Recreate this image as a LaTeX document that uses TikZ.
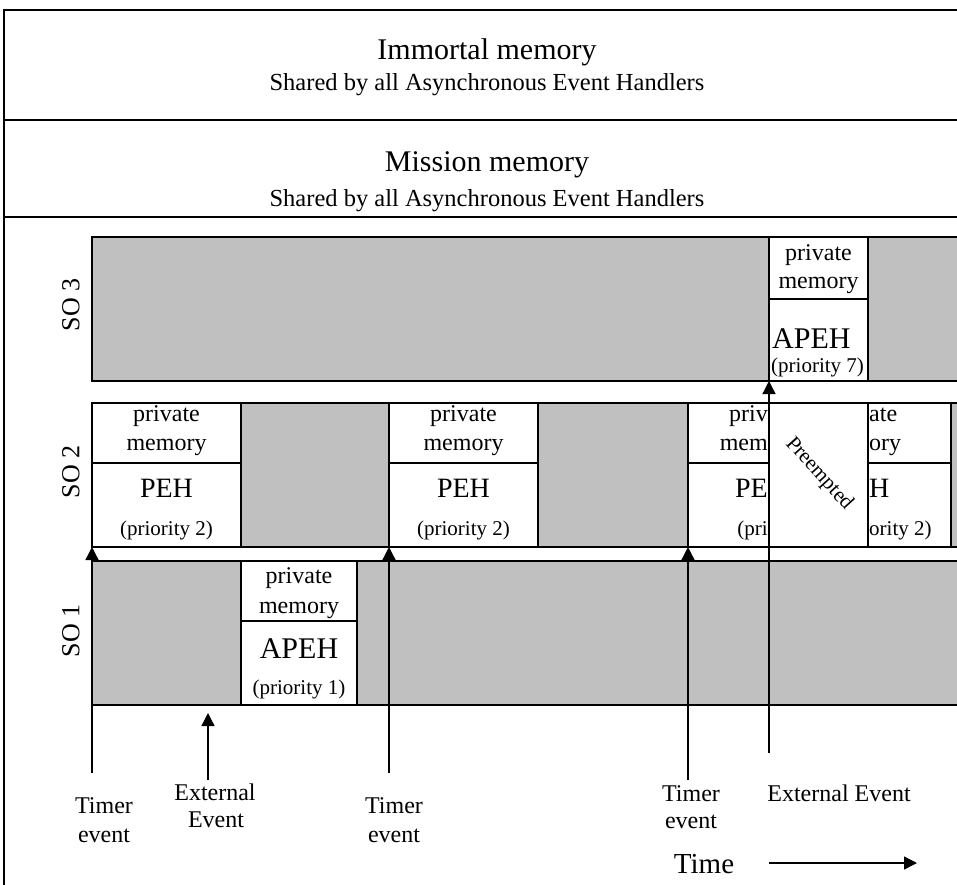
\documentclass[tikz,border=0pt]{standalone}
\usepackage{fontspec}
\setmainfont{Liberation Serif}
\usetikzlibrary{arrows.meta}
\definecolor{boxgrey}{RGB}{192,192,192}
\newcommand{\myfs}[1]{\fontsize{#1}{#1}\selectfont}
\begin{document}
\begin{tikzpicture}[x=1pt,y=-1pt,
  frame/.style={draw=black, line width=1.3pt},
  cell/.style={draw=black, line width=1.3pt, inner sep=0pt, outer sep=0pt, anchor=north west},
  gcell/.style={cell, fill=boxgrey},
  wcell/.style={cell, fill=white},
  sz/.style 2 args={minimum width=#1pt, minimum height=#2pt},
  tx/.style={inner sep=0pt, anchor=base, font=\myfs{#1}},
  tw/.style={inner sep=0pt, anchor=base west, font=\myfs{#1}},
  te/.style={inner sep=0pt, anchor=base east, font=\myfs{#1}},
  arr/.style={line width=1.3pt, -{Triangle[width=13pt,length=13pt]}}
]
\useasboundingbox (0,0) rectangle (957,884);
% memory frame
\draw[frame] (970,10) -- (4,10) -- (4,890);
\draw[frame] (4,120) -- (970,120);
\draw[frame] (4,217) -- (970,217);
\node[tx=30] (imm) at (487,59) {Immortal memory};
\node[tx=24.5] (immsub) at (487,90) {Shared by all Asynchronous Event Handlers};
\node[tx=30] (mis) at (487,171) {Mission memory};
\node[tx=24.5] (missub) at (487,206) {Shared by all Asynchronous Event Handlers};

% SO 3
\node[gcell, sz={875}{144}] (so3) at (92,237) {};
\node[wcell, sz={99}{62}] (apeh3pm) at (769,237) {};
\node[wcell, sz={99}{82}] (apeh3) at (769,299) {};
\node[tx=24] (a3a) at (818.5,260) {private};
\node[tx=24] (a3b) at (818.5,288) {memory};
\node[tw=30] (a3c) at (772,348) {APEH};
\node[tw=21] (a3d) at (771,372) {(priority 7)};

% SO 2
\node[wcell, sz={149}{60}] (peh1pm) at (92,403) {};
\node[wcell, sz={149}{84}] (peh1) at (92,463) {};
\node[gcell, sz={148}{144}] (g21) at (241,403) {};
\node[wcell, sz={149}{60}] (peh2pm) at (389,403) {};
\node[wcell, sz={149}{84}] (peh2) at (389,463) {};
\node[gcell, sz={150}{144}] (g22) at (538,403) {};
\node[wcell, sz={81}{60}] (peh3lpm) at (688,403) {};
\node[wcell, sz={81}{84}] (peh3l) at (688,463) {};
\node[wcell, sz={83}{60}] (peh3rpm) at (868,403) {};
\node[wcell, sz={83}{84}] (peh3r) at (868,463) {};
\node[gcell, sz={30}{144}] (g23) at (951,403) {};
\node[wcell, sz={99}{144}] (pre) at (769,403) {};

\node[tx=24] (p1a) at (166.5,421) {private};
\node[tx=24] (p1b) at (166.5,450) {memory};
\node[tx=28] (p1c) at (166.5,497) {PEH};
\node[tx=21] (p1d) at (166.5,535) {(priority 2)};
\node[tx=24] (p2a) at (463.5,421) {private};
\node[tx=24] (p2b) at (463.5,450) {memory};
\node[tx=28] (p2c) at (463.5,497) {PEH};
\node[tx=21] (p2d) at (463.5,535) {(priority 2)};

\node[te=24] (p3a) at (768,421) {priv};
\node[te=24] (p3b) at (768,450) {mem};
\node[te=28] (p3c) at (768,497) {PE};
\node[te=21] (p3d) at (768,535) {(pri};
\node[tw=24] (p4a) at (869,421) {ate};
\node[tw=24] (p4b) at (869,450) {ory};
\node[tw=28] (p4c) at (869,497) {H};
\node[tw=21] (p4d) at (869,535) {ority 2)};

\node[inner sep=0pt, font=\myfs{21}, rotate=-48] (pret) at (819,474) {Preempted};

% SO 1
\node[gcell, sz={875}{144}] (so1) at (92,561) {};
\node[wcell, sz={116}{60}] (apeh1pm) at (241,561) {};
\node[wcell, sz={116}{84}] (apeh1) at (241,621) {};
\node[tx=24] (a1a) at (299,583) {private};
\node[tx=24] (a1b) at (299,613) {memory};
\node[tx=30] (a1c) at (299,658) {APEH};
\node[tx=21] (a1d) at (299,694) {(priority 1)};

% row labels
\node[inner sep=0pt, font=\myfs{26}, rotate=90] (l3) at (71,305) {SO 3};
\node[inner sep=0pt, font=\myfs{26}, rotate=90] (l2) at (71,472) {SO 2};
\node[inner sep=0pt, font=\myfs{26}, rotate=90] (l1) at (71,631) {SO 1};

% events
\coordinate (t1s) at (92,773);
\coordinate (e1s) at (208,780);
\coordinate (e1t) at (208,713);
\coordinate (t2s) at (389,773);
\coordinate (t3s) at (688,780);
\coordinate (e2s) at (769,753);
\draw[arr] (t1s) -- (peh1.south west);
\draw[arr] (e1s) -- (e1t);
\draw[arr] (t2s) -- (peh2.south west);
\draw[arr] (t3s) -- (peh3l.south west);
\draw[arr] (e2s) -- (apeh3.south west);

\node[tx=24] (ev1a) at (104,813) {Timer};
\node[tx=24] (ev1b) at (104,842) {event};
\node[tx=24] (ev2a) at (215,800) {External};
\node[tx=24] (ev2b) at (216,827) {Event};
\node[tx=24] (ev3a) at (394,813) {Timer};
\node[tx=24] (ev3b) at (394,842) {event};
\node[tx=24] (ev4a) at (691,801) {Timer};
\node[tx=24] (ev4b) at (691,828) {event};
\node[tx=24] (ev5) at (839,801) {External Event};

\node[tx=29] (time) at (704,873) {Time};
\coordinate (ta1) at (769,863);
\coordinate (ta2) at (917,863);
\draw[arr] (ta1) -- (ta2);
\end{tikzpicture}
\end{document}
